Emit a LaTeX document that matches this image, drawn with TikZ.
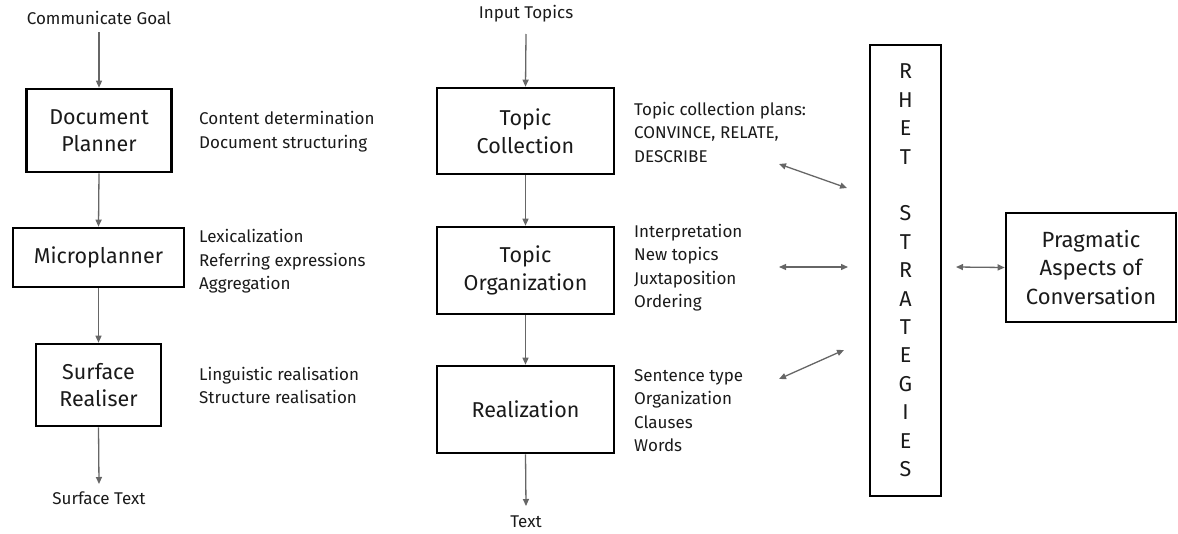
\documentclass[tikz,border=0pt]{standalone}
\usepackage{fontspec}
\setmainfont{Fira Sans}
\usetikzlibrary{arrows.meta}
\definecolor{txt}{HTML}{1A1A1A}
\definecolor{arr}{HTML}{666666}
\tikzset{
  box/.style={draw=black, line width=2.6pt, rectangle, inner sep=0pt, align=center, text=txt,
    font=\fontsize{21.5}{27.5}\selectfont},
  lbl/.style={anchor=west, align=left, inner sep=0pt, text=txt, font=\fontsize{17}{23.5}\selectfont},
  term/.style={inner sep=0pt, text=txt, font=\fontsize{17}{20}\selectfont},
  flow/.style={draw=arr, line width=1.3pt, -{Triangle[length=7pt,width=6pt]}},
  both/.style={draw=arr, line width=1.3pt, {Triangle[length=7pt,width=6pt]}-{Triangle[length=7pt,width=6pt]}},
}
\begin{document}
\begin{tikzpicture}[x=1pt,y=-1pt]
\useasboundingbox (0,0) rectangle (1178,533);
% left column
\node[term] (cg) at (99,18) {Communicate Goal};
\node[box, minimum width=145pt, minimum height=83pt] (dp) at (99,130.5) {Document\\Planner};
\node[box, minimum width=171pt, minimum height=59pt] (mp) at (98.5,257.5) {Microplanner};
\node[box, minimum width=125pt, minimum height=82pt] (sr) at (98.5,385) {Surface\\Realiser};
\node[term] (st) at (99,498) {Surface Text};
\draw[flow] (cg.south |- 0,32) -- (dp.north);
\draw[flow] (dp.south) -- (mp.north);
\draw[flow] (mp.south) -- (sr.north);
\draw[flow] (sr.south) -- (99,484) coordinate (stt);
\node[lbl] (l1) at (199,131.5) {Content determination\\Document structuring};
\node[lbl] (l2) at (199,261.5) {Lexicalization\\Referring expressions\\Aggregation};
\node[lbl] (l3) at (199,385.5) {Linguistic realisation\\Structure realisation};
% middle column
\node[term] (it) at (526,14) {Input Topics};
\node[box, minimum width=177pt, minimum height=86pt] (tc) at (525.5,131) {Topic\\Collection};
\node[box, minimum width=177pt, minimum height=87pt] (to) at (525.5,270.5) {Topic\\Organization};
\node[box, minimum width=177pt, minimum height=87pt] (rz) at (525.5,409.5) {Realization};
\node[term] (tx) at (526,522) {Text};
\draw[flow] (526,34) -- (tc.north);
\draw[flow] (tc.south) -- (to.north);
\draw[flow] (to.south) -- (rz.north);
\draw[flow] (rz.south) -- (526,506);
\node[lbl] (m1) at (634,132) {Topic collection plans:\\CONVINCE, RELATE,\\DESCRIBE};
\node[lbl] (m2) at (634,267.5) {Interpretation\\New topics\\Juxtaposition\\Ordering};
\node[lbl] (m3) at (634,410.5) {Sentence type\\Organization\\Clauses\\Words};
% right part
\node[box, minimum width=71pt, minimum height=451pt, font=\fontsize{21.5}{28.4}\selectfont] (rs) at (905.5,270.5)
  {R\\H\\E\\T\\\strut\\S\\T\\R\\A\\T\\E\\G\\I\\E\\S};
\node[box, minimum width=170pt, minimum height=109pt, font=\fontsize{22}{28.5}\selectfont] (pa) at (1091,267.5)
  {Pragmatic\\Aspects of\\Conversation};
\coordinate (a1) at (779,164); \coordinate (b1) at (847,188);
\coordinate (a2) at (779,267); \coordinate (b2) at (848,267);
\coordinate (a3) at (779,379); \coordinate (b3) at (844,350);
\coordinate (a4) at (956,267);
\draw[both] (a1) -- (b1);
\draw[both] (a2) -- (b2);
\draw[both] (a3) -- (b3);
\draw[both] (a4) -- (pa.west);
\end{tikzpicture}
\end{document}
